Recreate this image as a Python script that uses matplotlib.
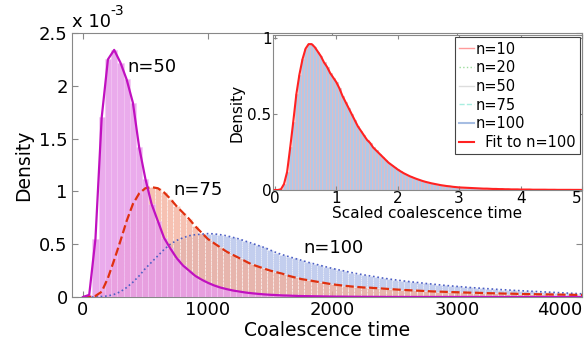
import numpy as np
import matplotlib
matplotlib.use("Agg")
import matplotlib.pyplot as plt
from matplotlib.lines import Line2D

plt.rcParams['font.family'] = ['DejaVu Sans']

# ---------------- data (density in units of 1e-3) ----------------
t50 = np.arange(0, 4001, 50)
d50 = [0, 0.02, 0.55, 1.70, 2.25, 2.34, 2.22, 2.06, 1.84, 1.42, 1.12, 0.88, 0.72,
       0.56, 0.46, 0.37, 0.30, 0.25, 0.20, 0.165, 0.135, 0.11, 0.09, 0.075, 0.062,
       0.052, 0.043, 0.036, 0.030, 0.025, 0.021, 0.018, 0.015, 0.013, 0.011, 0.009,
       0.008, 0.007, 0.006, 0.005, 0.004, 0.0035, 0.003, 0.0025, 0.002, 0.0018,
       0.0015, 0.0012, 0.001, 0.0008, 0.0006, 0.0005, 0.0005, 0.0004, 0.0004,
       0.0004, 0.0003, 0.0003, 0.0003, 0.0003, 0.0002, 0.0002, 0.0002, 0.0002,
       0.0002, 0.0002, 0.0001, 0.0001, 0.0001, 0.0001, 0.0001, 0.0001, 0.0001,
       0.0001, 0.0001, 0.0001, 0.0001, 0.0001, 0.0001, 0.0001, 0.0001]

t75 = np.arange(0, 4001, 50)
d75 = [0, 0, 0.01, 0.05, 0.18, 0.35, 0.53, 0.72, 0.88, 0.98, 1.03, 1.04, 1.03,
       0.99, 0.93, 0.86, 0.80, 0.74, 0.67, 0.61, 0.55, 0.51, 0.47, 0.43, 0.40,
       0.37, 0.34, 0.31, 0.29, 0.27, 0.25, 0.235, 0.22, 0.20, 0.185, 0.17, 0.16,
       0.15, 0.14, 0.13, 0.12, 0.113, 0.106, 0.10, 0.095, 0.09, 0.088, 0.084,
       0.08, 0.076, 0.072, 0.068, 0.065, 0.062, 0.059, 0.056, 0.053, 0.051, 0.049,
       0.047, 0.045, 0.043, 0.041, 0.040, 0.038, 0.036, 0.035, 0.033, 0.032,
       0.031, 0.029, 0.028, 0.027, 0.026, 0.025, 0.024, 0.023, 0.022, 0.021,
       0.020, 0.019]

t100 = np.arange(0, 4001, 50)
d100 = [0, 0, 0, 0.005, 0.01, 0.025, 0.05, 0.09, 0.14, 0.20, 0.27, 0.33, 0.39,
        0.45, 0.50, 0.535, 0.56, 0.58, 0.59, 0.595, 0.60, 0.598, 0.59, 0.58,
        0.565, 0.55, 0.53, 0.51, 0.49, 0.47, 0.445, 0.42, 0.40, 0.382, 0.365,
        0.348, 0.33, 0.315, 0.30, 0.285, 0.27, 0.257, 0.245, 0.232, 0.22, 0.21,
        0.20, 0.19, 0.18, 0.171, 0.163, 0.155, 0.148, 0.141, 0.135, 0.128, 0.122,
        0.116, 0.11, 0.105, 0.10, 0.095, 0.09, 0.086, 0.082, 0.078, 0.074, 0.07,
        0.067, 0.063, 0.06, 0.057, 0.054, 0.051, 0.048, 0.045, 0.042, 0.039,
        0.036, 0.033, 0.030]

s_grid = np.arange(0, 5.001, 0.05)
s_dens = [0, 0, 0.005, 0.04, 0.12, 0.28, 0.45, 0.63, 0.76, 0.86, 0.93, 0.96,
          0.96, 0.94, 0.91, 0.88, 0.84, 0.81, 0.77, 0.74, 0.71, 0.67, 0.62, 0.58,
          0.54, 0.50, 0.46, 0.42, 0.39, 0.36, 0.33, 0.31, 0.28, 0.26, 0.24, 0.22,
          0.20, 0.18, 0.165, 0.15, 0.135, 0.122, 0.11, 0.10, 0.09, 0.082, 0.074,
          0.067, 0.06, 0.054, 0.049, 0.044, 0.040, 0.036, 0.032, 0.029, 0.026,
          0.024, 0.021, 0.019, 0.017, 0.016, 0.015, 0.014, 0.013, 0.012, 0.011,
          0.010, 0.009, 0.009, 0.008, 0.007, 0.007, 0.006, 0.006, 0.005, 0.005,
          0.004, 0.004, 0.004, 0.003, 0.003, 0.003, 0.003, 0.002, 0.002, 0.002,
          0.002, 0.002, 0.0015, 0.0015, 0.0015, 0.001, 0.001, 0.001, 0.001,
          0.001, 0.0008, 0.0008, 0.0008, 0.0005]

legend_labels = ['n=10', 'n=20', 'n=50', 'n=75', 'n=100', '  Fit to n=100']
main_xticks = [0, 1000, 2000, 3000, 4000]
main_yticks = [0, 0.5, 1, 1.5, 2, 2.5]
inset_xticks = [0, 1, 2, 3, 4, 5]
inset_yticks = [0, 0.5, 1]

# ---------------- figure ----------------
fig = plt.figure(figsize=(5.84, 3.54), dpi=100)
ax = fig.add_axes([72/584, 1-297/354, 510/584, 264/354])

ax.bar(t100, d100, width=50, align='center', color='#b9c6ec', alpha=0.85,
       edgecolor='white', linewidth=0.5, linestyle=':', zorder=1)
ax.bar(t75, d75, width=50, align='center', color='#f4ad98', alpha=0.75,
       edgecolor='white', linewidth=0.5, linestyle='--', zorder=2)
ax.bar(t50, d50, width=50, align='center', color='#e79ce9', alpha=0.85,
       edgecolor='#f4c8f4', linewidth=0.4, zorder=3)
ax.plot(t100, d100, color='#4d5fc4', lw=1.2, ls=':', zorder=4)
ax.plot(t75, d75, color='#e0300e', lw=1.6, ls='--', zorder=5)
ax.plot(t50, d50, color='#c010c0', lw=1.6, zorder=6)

ax.set_xlim(-88, 4000)
ax.set_ylim(0, 2.5)
ax.set_xticks(main_xticks)
ax.set_yticks(main_yticks)
ax.set_yticklabels(['0', '0.5', '1', '1.5', '2', '2.5'])
ax.tick_params(direction='in', top=True, right=True, labelsize=13, length=4,
               color='#888888', pad=3)
for sp in ax.spines.values():
    sp.set_color('#888888')
labs = ax.get_xticklabels()
labs[-1].set_horizontalalignment('right')
ax.set_xlabel('Coalescence time', fontsize=13.5, labelpad=1)
ax.set_ylabel('Density', fontsize=13.5, labelpad=4)

ax.text(553, 2.18, 'n=50', fontsize=13, ha='center', va='center')
ax.text(922, 1.01, 'n=75', fontsize=13, ha='center', va='center')
ax.text(2005, 0.46, 'n=100', fontsize=13, ha='center', va='center')

fig.text(72/584, 1-27/354, 'x 10', fontsize=13, ha='left', va='baseline')
fig.text(110/584, 1-15/354, '-3', fontsize=10, ha='left', va='baseline')

# ---------------- inset ----------------
ins = fig.add_axes([273/584, 1-190/354, 309/584, 155/354])
ins.bar(s_grid, s_dens, width=0.05, align='center', color='#b3c8e6',
        edgecolor='#f0b4b4', linewidth=0.4, zorder=1)
ins.plot(s_grid, s_dens, color='#ff2222', lw=1.5, zorder=3)
ins.set_xlim(-0.03, 5)
ins.set_ylim(0, 1.02)
ins.set_xticks(inset_xticks)
ins.set_yticks(inset_yticks)
ins.set_yticklabels(['0', '0.5', '1'])
ins.tick_params(direction='in', top=True, right=True, labelsize=11, length=3,
                color='#888888', pad=1)
for sp in ins.spines.values():
    sp.set_color('#888888')
ilabs = ins.get_xticklabels()
ilabs[-1].set_horizontalalignment('right')
ins.set_xlabel('Scaled coalescence time', fontsize=11, labelpad=0)
ins.set_ylabel('Density', fontsize=11, labelpad=2)

handles = [Line2D([], [], color='#ff9a9a', lw=1),
           Line2D([], [], color='#9ddc9d', lw=1, ls=':'),
           Line2D([], [], color='#dddddd', lw=1),
           Line2D([], [], color='#a8eee0', lw=1, ls='--'),
           Line2D([], [], color='#a6bde2', lw=1.5),
           Line2D([], [], color='#ff2222', lw=1.5)]
leg = ins.legend(handles, legend_labels, loc='upper right', fontsize=10.5,
                 handlelength=1.0, handletextpad=0.15, labelspacing=0.25,
                 borderpad=0.3, borderaxespad=0.15, fancybox=False,
                 framealpha=1)
leg.get_frame().set_edgecolor('#444444')
leg.get_frame().set_linewidth(0.8)

fig.savefig('out.png', dpi=100)
